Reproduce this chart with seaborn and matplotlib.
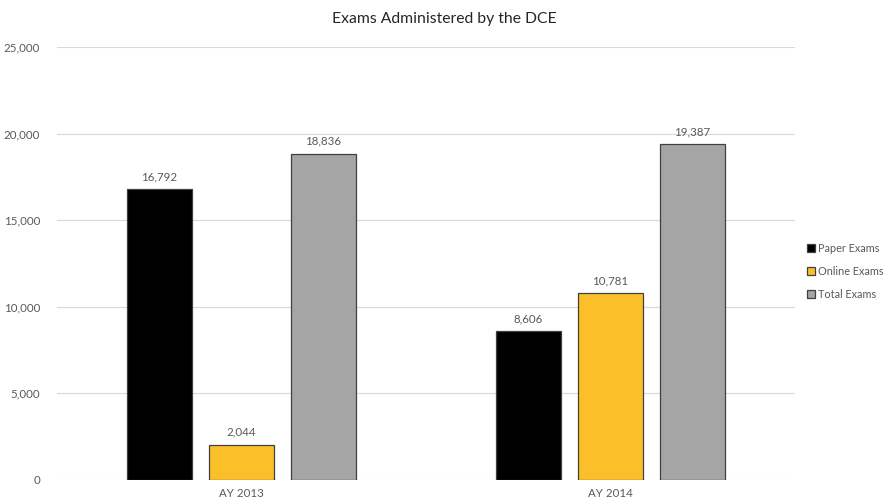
import pandas as pd
import seaborn as sns
import matplotlib.pyplot as plt
from matplotlib.ticker import FuncFormatter

# values
years = ['AY 2013', 'AY 2014']
series = ['Paper Exams', 'Online Exams', 'Total Exams']
paper = [16792, 8606]
online = [2044, 10781]
total = [18836, 19387]
colors = ['#000000', '#FBBF2A', '#A5A5A5']

df = pd.DataFrame({
    'year': years * 3,
    'kind': [s for s in series for _ in years],
    'count': paper + online + total,
})

sns.set_style('white')
plt.rcParams['font.family'] = ['Lato', 'DejaVu Sans']

fig = plt.figure(figsize=(8.88, 5), dpi=100)
ax = fig.add_axes([0.064, 0.04, 0.831, 0.866])

sns.barplot(data=df, x='year', y='count', hue='kind', hue_order=series,
            palette=colors, saturation=1, width=0.667, gap=0.21,
            edgecolor='#404040', linewidth=0.9, ax=ax, legend=False)

for cont in ax.containers:
    ax.bar_label(cont, labels=[f'{v:,.0f}' for v in cont.datavalues],
                 padding=5, fontsize=8.3, color='#595959')

ax.set_ylim(0, 25000)
ax.set_xlim(-0.5, 1.5)
ax.set_yticks(range(0, 25001, 5000))
ax.yaxis.set_major_formatter(FuncFormatter(lambda v, p: f'{v:,.0f}'))
ax.grid(axis='y', color='#D9D9D9', linewidth=0.8)
ax.set_axisbelow(True)
for s in ax.spines.values():
    s.set_visible(False)
ax.tick_params(axis='both', length=0, labelsize=8.3, colors='#595959')
ax.tick_params(axis='y', pad=12)
ax.tick_params(axis='x', pad=6)
ax.set_xlabel('')
ax.set_ylabel('')

fig.suptitle('Exams Administered by the DCE', x=0.5, y=0.975,
             fontsize=11.3, color='#262626')

handles = [plt.Rectangle((0, 0), 1, 1, facecolor=c, edgecolor='#404040', linewidth=0.9)
           for c in colors]
fig.legend(handles, series, loc='center left', bbox_to_anchor=(0.898, 0.457),
           frameon=False, fontsize=7.8, handlelength=0.7, handleheight=0.7,
           handletextpad=0.3, labelspacing=1.1, labelcolor='#595959')

fig.savefig('out.png', dpi=100)
